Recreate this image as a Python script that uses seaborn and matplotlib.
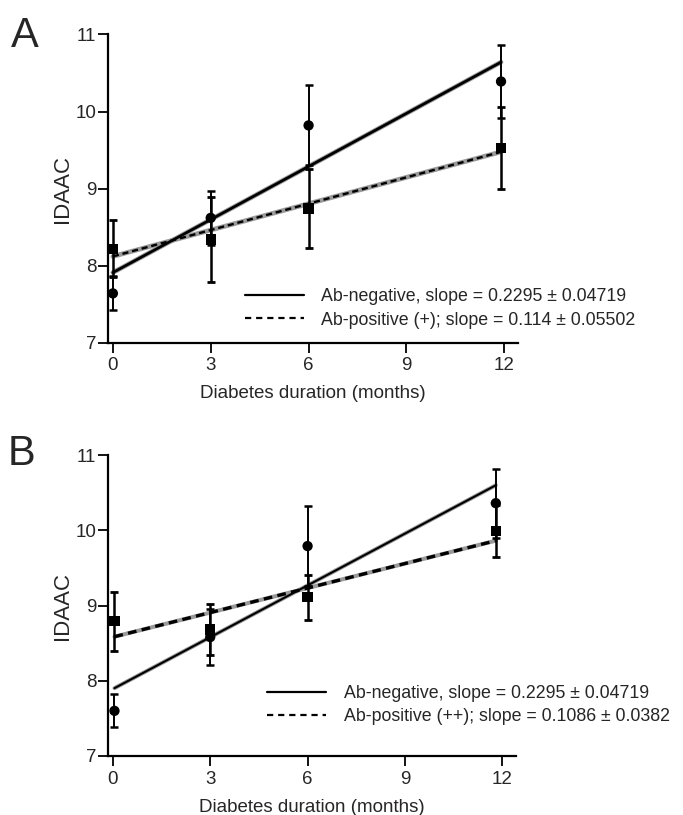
import numpy as np
import pandas as pd
import matplotlib
matplotlib.use("Agg")
import matplotlib.pyplot as plt
from matplotlib.lines import Line2D
import seaborn as sns

# time points (months) as placed in each panel
times_a = [0.0, 3.0, 6.0, 11.9]
times_b = [0.05, 3.0, 6.0, 11.8]

# panel A: mean IDAAC +/- SEM
neg_a = [7.64, 8.62, 9.82, 10.39]
neg_a_err = [0.22, 0.35, 0.52, 0.47]
pos_a = [8.22, 8.34, 8.74, 9.53]
pos_a_err = [0.37, 0.55, 0.51, 0.53]

# panel B
neg_b = [7.60, 8.58, 9.79, 10.36]
neg_b_err = [0.22, 0.37, 0.53, 0.46]
pos_b = [8.79, 8.68, 9.11, 9.99]
pos_b_err = [0.39, 0.34, 0.30, 0.35]

# fitted regression lines (slope from legend, intercept)
slopes_a = [0.2295, 0.114]
icpt_a = [7.91, 8.12]
slopes_b = [0.2295, 0.1086]
icpt_b = [7.89, 8.58]

labels_a = ["Ab-negative, slope = 0.2295 \u00b1 0.04719",
            "Ab-positive (+); slope = 0.114 \u00b1 0.05502"]
labels_b = ["Ab-negative, slope = 0.2295 \u00b1 0.04719",
            "Ab-positive (++); slope = 0.1086 \u00b1 0.0382"]

sns.set_style("ticks")
plt.rcParams["font.family"] = ["Liberation Sans", "DejaVu Sans"]

fig = plt.figure(figsize=(6.83, 8.15), dpi=100)
ax_a = fig.add_axes([0.1581, 0.5795, 0.6003, 0.3782])
ax_b = fig.add_axes([0.1581, 0.0724, 0.5973, 0.3693])


def draw_panel(ax, times, neg, neg_err, pos, pos_err, slopes, icpts, labels,
               lw_solid, lw_dash, leg_xy):
    # regression lines
    x_line = np.array([times[0], times[-1]])
    fit = pd.DataFrame({
        "x": np.concatenate([x_line, x_line]),
        "y": np.concatenate([icpts[0] + slopes[0] * x_line,
                             icpts[1] + slopes[1] * x_line]),
        "group": ["neg", "neg", "pos", "pos"],
    })
    # faint grey halo under the fitted lines
    sns.lineplot(data=fit, x="x", y="y", units="group", estimator=None,
                 color="#9a9a9a", lw=lw_solid + 1.4, ax=ax, legend=False, zorder=2)
    sns.lineplot(data=fit[fit.group == "neg"], x="x", y="y", color="black",
                 lw=lw_solid, ax=ax, legend=False, zorder=3)
    sns.lineplot(data=fit[fit.group == "pos"], x="x", y="y", color="black",
                 lw=lw_dash, ax=ax, legend=False, zorder=3)
    ax.lines[-1].set_dashes((2.6, 1.6))

    # means with error bars
    ax.errorbar(times, neg, yerr=neg_err, fmt="none", ecolor="black",
                elinewidth=1.4, capsize=3, capthick=1.8, zorder=4)
    ax.errorbar(times, pos, yerr=pos_err, fmt="none", ecolor="black",
                elinewidth=1.8, capsize=3, capthick=2.0, zorder=4)
    pts = pd.DataFrame({
        "t": list(times) * 2,
        "v": list(neg) + list(pos),
        "g": ["neg"] * len(times) + ["pos"] * len(times),
    })
    sns.scatterplot(data=pts, x="t", y="v", style="g",
                    markers={"neg": "o", "pos": "s"}, color="black",
                    s=55, edgecolor="black", linewidth=0, ax=ax,
                    legend=False, zorder=5)

    ax.set_xlim(-0.15, 12.42)
    ax.set_ylim(7, 11)
    ax.set_xticks([0, 3, 6, 9, 12])
    ax.set_yticks([7, 8, 9, 10, 11])
    ax.set_xlabel("Diabetes duration (months)", fontsize=13.5, labelpad=8)
    ax.set_ylabel("IDAAC", fontsize=16, labelpad=2)
    ax.tick_params(axis="both", labelsize=13.5, length=7, width=1.3, color="black")
    ax.tick_params(axis="x", pad=3.5)
    ax.tick_params(axis="y", pad=1.5)
    for side in ["left", "bottom"]:
        ax.spines[side].set_linewidth(1.6)
        ax.spines[side].set_color("black")
    sns.despine(ax=ax)

    handles = [Line2D([], [], color="black", lw=1.6),
               Line2D([], [], color="black", lw=1.6, dashes=(2.8, 2.2))]
    ax.legend(handles, labels, loc="center left", bbox_to_anchor=leg_xy,
              frameon=False, fontsize=12.8, handlelength=3.3,
              handletextpad=1.0, labelspacing=0.34, borderpad=0,
              borderaxespad=0)


draw_panel(ax_a, times_a, neg_a, neg_a_err, pos_a, pos_a_err, slopes_a, icpt_a,
           labels_a, 2.0, 1.7, (0.334, 0.111))
draw_panel(ax_b, times_b, neg_b, neg_b_err, pos_b, pos_b_err, slopes_b, icpt_b,
           labels_b, 1.5, 2.4, (0.39, 0.169))

fig.text(0.016, 0.9423, "A", fontsize=30, va="baseline", ha="left")
fig.text(0.011, 0.4294, "B", fontsize=30, va="baseline", ha="left")

fig.savefig("out.png", dpi=100)
